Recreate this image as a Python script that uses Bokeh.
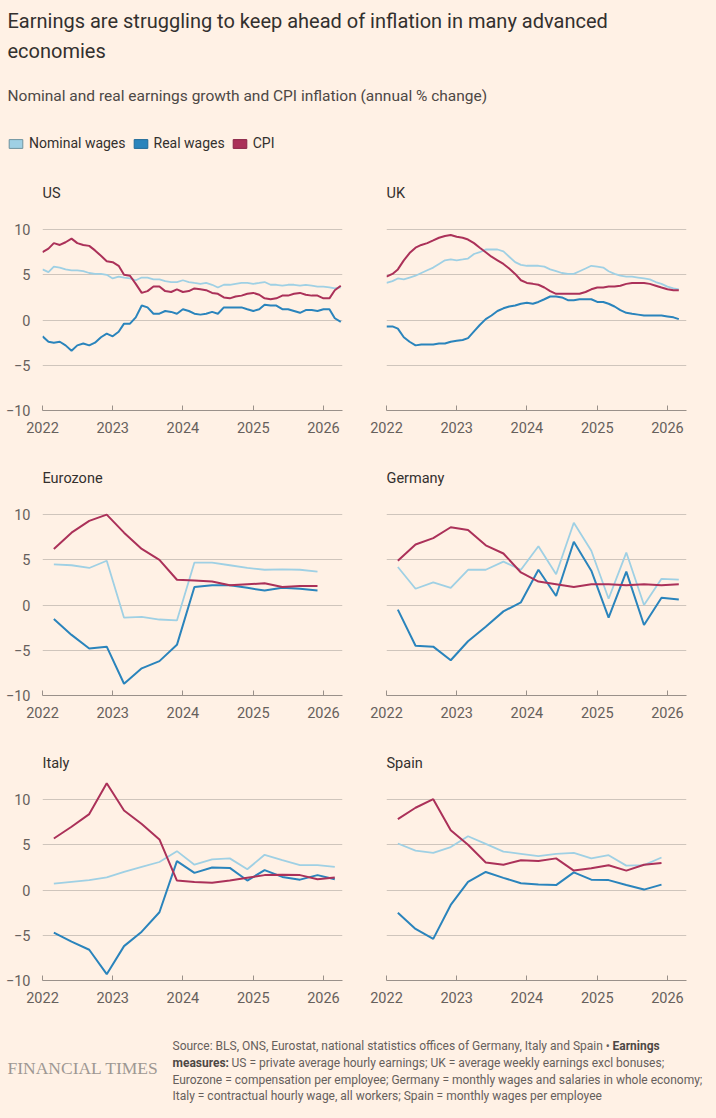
import pandas as pd
from bokeh.plotting import figure
from bokeh.layouts import column, row
from bokeh.models import (Range1d, FixedTicker, DatetimeTickFormatter, Legend,
                          LegendItem)
from bokeh.embed import file_html
from bokeh.resources import INLINE
from bokeh.core.properties import value

# ---------------- data ----------------
years = [2022, 2023, 2024, 2025, 2026]
y_ticks = [-10, -5, 0, 5, 10]
grid_ticks = [-5, 0, 5, 10]

us_dates = pd.date_range("2022-01-01", periods=52, freq="MS")
us_nominal = [5.6, 5.3, 5.9, 5.8, 5.6, 5.5, 5.5, 5.4, 5.2, 5.1, 5.1, 5.0,
              4.6, 4.8, 4.7, 4.6, 4.4, 4.7, 4.7, 4.5, 4.5, 4.3, 4.2, 4.2,
              4.4, 4.2, 4.1, 4.0, 4.1, 3.9, 3.6, 3.9, 3.9, 4.0, 4.1, 4.1,
              4.0, 4.1, 4.2, 3.9, 3.9, 3.8, 3.9, 3.9, 3.8, 3.9, 3.8, 3.7,
              3.7, 3.6, 3.5, 3.6]
us_real = [-1.8, -2.4, -2.5, -2.4, -2.8, -3.4, -2.8, -2.6, -2.8, -2.5, -1.9, -1.5,
           -1.8, -1.3, -0.4, -0.4, 0.3, 1.6, 1.4, 0.7, 0.7, 1.0, 0.9, 0.7,
           1.2, 1.0, 0.7, 0.6, 0.7, 0.9, 0.7, 1.4, 1.4, 1.4, 1.4, 1.2,
           1.0, 1.2, 1.7, 1.6, 1.6, 1.2, 1.2, 1.0, 0.8, 1.1, 1.1, 1.0,
           1.2, 1.2, 0.2, -0.2]
us_cpi = [7.5, 7.9, 8.5, 8.3, 8.6, 9.0, 8.5, 8.3, 8.2, 7.7, 7.1, 6.5,
          6.4, 6.0, 5.0, 4.9, 4.0, 3.0, 3.2, 3.7, 3.7, 3.2, 3.1, 3.4,
          3.1, 3.2, 3.5, 3.4, 3.3, 3.0, 2.9, 2.5, 2.4, 2.6, 2.7, 2.9,
          3.0, 2.8, 2.4, 2.3, 2.4, 2.7, 2.7, 2.9, 3.0, 2.8, 2.7, 2.7,
          2.4, 2.4, 3.3, 3.8]

uk_dates = pd.date_range("2022-01-01", periods=51, freq="MS")
uk_nominal = [4.1, 4.3, 4.6, 4.5, 4.7, 4.9, 5.2, 5.5, 5.8, 6.2, 6.6, 6.7,
              6.6, 6.7, 6.8, 7.3, 7.5, 7.8, 7.8, 7.8, 7.6, 7.0, 6.4, 6.1,
              6.0, 6.0, 6.0, 5.9, 5.6, 5.4, 5.2, 5.1, 5.1, 5.4, 5.7, 6.0,
              5.9, 5.8, 5.4, 5.1, 4.9, 4.8, 4.8, 4.7, 4.6, 4.5, 4.2, 4.0,
              3.7, 3.5, 3.4]
uk_real = [-0.7, -0.7, -0.95, -1.9, -2.4, -2.8, -2.7, -2.7, -2.7, -2.6, -2.6, -2.4,
           -2.3, -2.2, -2.0, -1.25, -0.55, 0.1, 0.5, 1.0, 1.3, 1.5, 1.6, 1.8,
           1.9, 1.8, 2.0, 2.3, 2.6, 2.6, 2.5, 2.2, 2.2, 2.3, 2.3, 2.3,
           2.0, 2.0, 1.8, 1.5, 1.1, 0.8, 0.7, 0.6, 0.5, 0.5, 0.5, 0.5,
           0.4, 0.3, 0.1]
uk_cpi = [4.8, 5.1, 5.6, 6.6, 7.4, 8.0, 8.3, 8.5, 8.8, 9.1, 9.3, 9.4,
          9.2, 9.1, 8.9, 8.5, 8.0, 7.5, 7.0, 6.6, 6.2, 5.7, 5.1, 4.4,
          4.1, 4.0, 3.9, 3.6, 3.2, 2.9, 2.9, 2.9, 2.9, 2.9, 3.1, 3.4,
          3.6, 3.6, 3.7, 3.7, 3.8, 4.0, 4.1, 4.1, 4.1, 4.0, 3.8, 3.6,
          3.4, 3.3, 3.3]

ez_dates = pd.date_range("2022-03-01", periods=16, freq="3MS")
ez_nominal = [4.5, 4.4, 4.1, 4.9, -1.4, -1.3, -1.6, -1.7, 4.7, 4.7, 4.4, 4.1, 3.9, 3.95, 3.9, 3.7]
ez_real = [-1.55, -3.3, -4.8, -4.6, -8.7, -7.0, -6.2, -4.4, 2.0, 2.2, 2.2, 1.9, 1.6, 1.9, 1.8, 1.6]
ez_cpi = [6.2, 8.0, 9.3, 10.0, 8.0, 6.2, 5.0, 2.8, 2.7, 2.6, 2.2, 2.3, 2.4, 2.0, 2.1, 2.1]

de_dates = pd.date_range("2022-03-01", periods=17, freq="3MS")
de_nominal = [4.2, 1.8, 2.5, 1.9, 3.9, 3.9, 4.8, 3.9, 6.5, 3.4, 9.1, 6.0, 0.7, 5.8, 0.0, 2.9, 2.8]
de_real = [-0.5, -4.5, -4.6, -6.1, -4.0, -2.4, -0.7, 0.3, 3.9, 1.0, 7.0, 3.8, -1.4, 3.7, -2.2, 0.8, 0.6]
de_cpi = [4.9, 6.7, 7.4, 8.6, 8.3, 6.6, 5.7, 3.6, 2.6, 2.3, 2.0, 2.3, 2.3, 2.2, 2.3, 2.2, 2.3]

it_dates = pd.date_range("2022-03-01", periods=17, freq="3MS")
it_nominal = [0.7, 0.9, 1.1, 1.4, 2.0, 2.55, 3.1, 4.3, 2.8, 3.4, 3.5, 2.3, 3.9, 3.3, 2.75, 2.75, 2.55]
it_real = [-4.7, -5.7, -6.6, -9.3, -6.2, -4.6, -2.45, 3.2, 1.9, 2.5, 2.45, 1.05, 2.2, 1.45, 1.15, 1.65, 1.2]
it_cpi = [5.7, 7.0, 8.4, 11.8, 8.8, 7.3, 5.6, 1.05, 0.9, 0.8, 1.05, 1.35, 1.65, 1.7, 1.65, 1.2, 1.4]

es_dates = pd.date_range("2022-03-01", periods=16, freq="3MS")
es_nominal = [5.15, 4.35, 4.1, 4.75, 5.95, 5.1, 4.25, 4.0, 3.75, 4.0, 4.1, 3.5, 3.85, 2.7, 2.75, 3.6]
es_real = [-2.5, -4.3, -5.4, -1.65, 0.9, 2.0, 1.35, 0.75, 0.6, 0.55, 1.95, 1.15, 1.1, 0.55, 0.05, 0.6]
es_cpi = [7.85, 9.1, 10.05, 6.6, 5.0, 3.05, 2.8, 3.3, 3.2, 3.5, 2.15, 2.4, 2.75, 2.15, 2.8, 3.0]

panels = [
    ("US", us_dates, us_nominal, us_real, us_cpi),
    ("UK", uk_dates, uk_nominal, uk_real, uk_cpi),
    ("Eurozone", ez_dates, ez_nominal, ez_real, ez_cpi),
    ("Germany", de_dates, de_nominal, de_real, de_cpi),
    ("Italy", it_dates, it_nominal, it_real, it_cpi),
    ("Spain", es_dates, es_nominal, es_real, es_cpi),
]

title_lines = ["Earnings are struggling to keep ahead of inflation in many advanced",
               "economies"]
subtitle = "Nominal and real earnings growth and CPI inflation (annual % change)"
series_labels = ["Nominal wages", "Real wages", "CPI"]

# ---------------- style ----------------
BG = "#FFF1E5"
C_NOM = "#9fd0e4"
C_REAL = "#2a84bc"
C_CPI = "#ab3159"
TXT = "#33302e"
MUTED = "#66605c"
GRID = "#cfc5bc"
AXIS = "#9a918a"
FONT = "Roboto"

x_start = pd.Timestamp("2022-01-01")
x_end = pd.Timestamp("2026-04-10")
year_ms = [pd.Timestamp(f"{y}-01-01").timestamp() * 1000 for y in years]


def make_panel(name, dates, nom, real, cpi, left):
    p = figure(width=356 if left else 352, height=285,
               x_axis_type="datetime",
               x_range=Range1d(x_start, x_end), y_range=Range1d(-10, 12),
               output_backend="svg", toolbar_location=None,
               min_border_left=42 if left else 30,
               min_border_right=14 if left else 22,
               min_border_top=41, min_border_bottom=45,
               background_fill_color=BG, border_fill_color=BG,
               outline_line_color=None, title=name)
    p.title.text_font = FONT
    p.title.text_font_size = "14.5px"
    p.title.text_font_style = "normal"
    p.title.text_color = TXT
    p.title.align = "left"
    p.title.standoff = 19

    xa = p.xaxis[0]
    xa.ticker = FixedTicker(ticks=year_ms)
    xa.formatter = DatetimeTickFormatter(years="%Y", months="%Y", days="%Y",
                                         hours="%Y", minutes="%Y")
    xa.axis_line_color = AXIS
    xa.major_tick_line_color = AXIS
    xa.major_tick_in = 5
    xa.major_tick_out = 0
    xa.minor_tick_in = 0
    xa.minor_tick_out = 0
    xa.minor_tick_line_color = None
    xa.major_label_text_font = FONT
    xa.major_label_text_font_size = "14.5px"
    xa.major_label_text_color = MUTED
    xa.major_label_standoff = 11

    ya = p.yaxis[0]
    ya.ticker = FixedTicker(ticks=y_ticks)
    ya.axis_line_color = None
    ya.major_tick_line_color = None
    ya.minor_tick_line_color = None
    ya.major_tick_in = 0
    ya.major_tick_out = 0
    ya.minor_tick_in = 0
    ya.minor_tick_out = 0
    ya.major_label_text_font = FONT
    ya.major_label_text_font_size = "14.5px"
    ya.major_label_text_color = MUTED
    ya.major_label_standoff = 12
    if not left:
        ya.visible = False

    p.xgrid.visible = False
    p.ygrid.ticker = FixedTicker(ticks=grid_ticks)
    p.ygrid.grid_line_color = GRID
    p.ygrid.grid_line_width = 1

    p.line(dates, nom, line_color=C_NOM, line_width=1.8)
    p.line(dates, real, line_color=C_REAL, line_width=2)
    p.line(dates, cpi, line_color=C_CPI, line_width=2)
    return p


figs = [make_panel(*pdef, left=(i % 2 == 0)) for i, pdef in enumerate(panels)]

# ---------------- header ----------------
HW, HH = 708, 162
h = figure(width=HW, height=HH, x_range=Range1d(0, HW), y_range=Range1d(HH, 0),
           min_border=0, toolbar_location=None, output_backend="svg",
           background_fill_color=BG, border_fill_color=BG, outline_line_color=None)
h.axis.visible = False
h.grid.visible = False
h.text(x=[7, 7], y=[0, 30], text=title_lines, text_font=value(FONT),
       text_font_size="20px", text_color=TXT, text_baseline="top", text_align="left")
h.text(x=[7], y=[87], text=[subtitle], text_font=value(FONT),
       text_font_size="15.5px", text_color="#4d4845", text_baseline="middle", text_align="left")

swatch_cols = [(C_NOM, "#6f939f"), (C_REAL, "#1f6a99"), (C_CPI, "#8a2446")]
items = []
for (fc, lc), lab in zip(swatch_cols, series_labels):
    # legend-only helper glyph, placed outside the visible canvas
    r = h.quad(left=[-30], right=[-20], top=[-30], bottom=[-20], fill_color=fc, line_color=lc)
    items.append(LegendItem(label=lab, renderers=[r]))
leg = Legend(items=items, orientation="horizontal", location=(7, 19),
             padding=0, margin=0, spacing=6, label_standoff=5,
             glyph_width=17, glyph_height=11, border_line_alpha=0,
             background_fill_alpha=0, label_text_font=FONT,
             label_text_font_size="14px", label_text_color=TXT)
h.add_layout(leg)

# ---------------- footer ----------------
FW, FH = 708, 84
f = figure(width=FW, height=FH, x_range=Range1d(0, FW), y_range=Range1d(FH, 0),
           min_border=0, toolbar_location=None, output_backend="svg",
           background_fill_color=BG, border_fill_color=BG, outline_line_color=None)
f.axis.visible = False
f.grid.visible = False
f.text(x=[7], y=[42], text=["FINANCIAL TIMES"], text_font=value("Liberation Serif"),
       text_font_size="17.5px", text_color="#9e9893", text_baseline="middle")
src_normal = ["Source: BLS, ONS, Eurostat, national statistics offices of Germany, Italy and Spain \u2022",
              "US = private average hourly earnings; UK = average weekly earnings excl bonuses;",
              "Eurozone = compensation per employee; Germany = monthly wages and salaries in whole economy;",
              "Italy = contractual hourly wage, all workers; Spain = monthly wages per employee"]
f.text(x=[172, 231, 172, 172], y=[20, 37, 54, 70], text=src_normal, text_font=value(FONT),
       text_font_size="12px", text_color=MUTED, text_baseline="middle")
f.text(x=[612, 172], y=[20, 37], text=["Earnings", "measures:"], text_font=value(FONT),
       text_font_size="12px", text_font_style="bold", text_color="#4d4845",
       text_baseline="middle")

layout = column(h, row(figs[0], figs[1]), row(figs[2], figs[3]),
                row(figs[4], figs[5]), f)

html = file_html(layout, INLINE)
# page keeps its 8px top/right/bottom margin; the left edge is used by the y-axis label gutter
html = html.replace("</head>", "<style>body{background:#FFF1E5;margin:8px 8px 8px 0;}</style></head>", 1)
open("out.html", "w").write(html)
